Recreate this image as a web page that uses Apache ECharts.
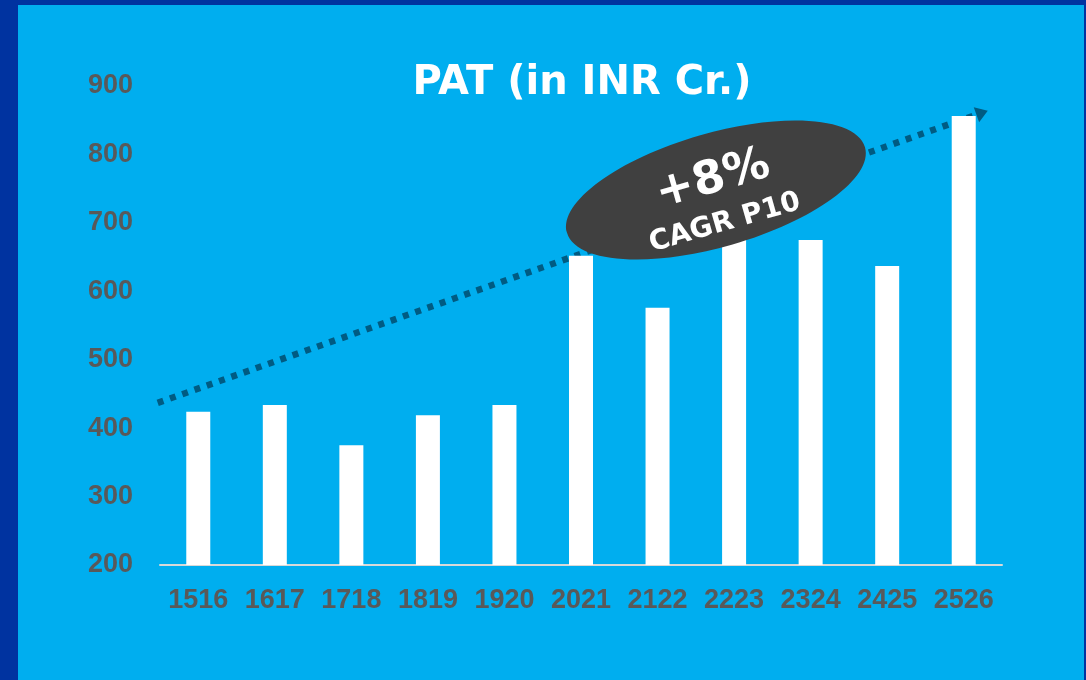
<!DOCTYPE html>
<html>
<head>
<meta charset="utf-8">
<script src="https://cdn.jsdelivr.net/npm/echarts@6/dist/echarts.min.js"></script>
<style>
html,body{margin:0;padding:0;background:#0033A0;}
#chart{width:1086px;height:680px;}
</style>
</head>
<body>
<div id="chart"></div>
<script>
const categories = ['1516','1617','1718','1819','1920','2021','2122','2223','2324','2425','2526'];
const patValues = [424, 434, 375, 419, 434, 652, 576, 679, 675, 637, 856];
const yTicks = {min: 200, max: 900, interval: 100};
// trend arrow: [category position, value]
const trendStart = [-0.53, 437];
const trendEnd = [10.24, 861];
const titleText = 'PAT (in INR Cr.)';
const badgeMain = '+8%';
const badgeSub = 'CAGR P10';

const chart = echarts.init(document.getElementById('chart'));
const rot = 16 * Math.PI / 180;
const labelFont = {color: '#595959', fontFamily: 'Liberation Sans', fontWeight: 'bold', fontSize: 27};
chart.setOption({
  backgroundColor: 'transparent',
  animation: false,
  title: {
    text: titleText,
    left: 577, top: 59, textAlign: 'center',
    textStyle: {color: '#ffffff', fontFamily: 'DejaVu Sans', fontWeight: 'bold', fontSize: 40}
  },
  grid: {left: 160, right: 84, top: 86, bottom: 115, containLabel: false},
  xAxis: [{
    type: 'category', data: categories, gridIndex: 0,
    axisLine: {lineStyle: {color: '#D9D9D9', width: 2}},
    axisTick: {show: false},
    axisLabel: Object.assign({margin: 22, interval: 0, hideOverlap: false}, labelFont)
  }, {
    type: 'value', min: -0.5, max: 10.5, gridIndex: 0,
    axisLine: {show: false}, axisTick: {show: false}, axisLabel: {show: false}, splitLine: {show: false}
  }],
  yAxis: {
    type: 'value', min: yTicks.min, max: yTicks.max, interval: yTicks.interval,
    splitLine: {show: false}, axisLine: {show: false}, axisTick: {show: false},
    axisLabel: Object.assign({margin: 27}, labelFont)
  },
  graphic: [
    {type: 'rect', z: -10, silent: true, shape: {x: 18, y: 5, width: 1066, height: 675}, style: {fill: '#00AEEF'}},
    {type: 'ellipse', z: 100, x: 716, y: 190, rotation: rot, shape: {cx: 0, cy: 0, rx: 155, ry: 57}, style: {fill: '#404040'}},
    {type: 'text', z: 101, x: 713, y: 180, rotation: rot, style: {text: badgeMain, fill: '#fff', font: 'bold 46px "DejaVu Sans"', textAlign: 'center', textVerticalAlign: 'middle'}},
    {type: 'text', z: 101, x: 725, y: 223, rotation: rot, style: {text: badgeSub, fill: '#fff', font: 'bold 28px "DejaVu Sans"', textAlign: 'center', textVerticalAlign: 'middle'}}
  ],
  series: [{
    type: 'bar', xAxisIndex: 0, data: patValues, barWidth: 24,
    itemStyle: {color: '#ffffff'}, z: 3
  }, {
    type: 'line', xAxisIndex: 1, yAxisIndex: 0, data: [trendStart, trendEnd], z: 2,
    showSymbol: false, symbol: 'none', silent: true,
    lineStyle: {color: '#005B82', width: 6.5, type: [6, 7], cap: 'butt'},
    markLine: {
      silent: true, symbol: ['none', 'triangle'], symbolSize: [16, 12],
      label: {show: false},
      lineStyle: {color: '#005B82', width: 6, type: [6, 6], cap: 'butt'},
      data: [[{coord: [trendEnd[0] - 0.05, trendEnd[1] - 2]}, {coord: trendEnd}]]
    }
  }]
});
</script>
</body>
</html>
